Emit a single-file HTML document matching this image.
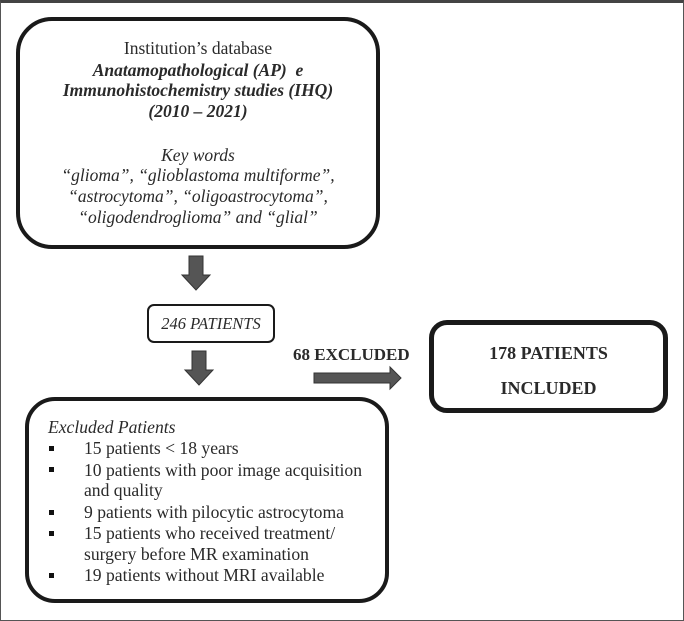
<!DOCTYPE html>
<html><head><style>
body{margin:0;width:684px;height:621px;background:#fff;position:relative;overflow:hidden;font-family:"Liberation Serif",serif;color:#2a2a2a}
.frame{position:absolute;left:0;top:0;border:1px solid #555;border-top:3px solid #444;box-sizing:border-box;width:684px;height:621px}
.box{position:absolute;border:4px solid #1a1a1a;box-sizing:border-box}
.c{position:absolute;left:0;width:100%;text-align:center;font-size:17.5px;line-height:20px}
.li{position:absolute;left:84px;font-size:17.6px;line-height:20px}
.sq{position:absolute;left:49px;width:5px;height:5px;background:#111}
</style></head><body>
<div class="frame"></div>
<div class="box" style="left:16px;top:17px;width:364px;height:232px;border-radius:36px"></div>
<div style="position:absolute;left:16px;top:17px;width:364px">
<div class="c" style="top:21px">Institution’s database</div>
<div class="c" style="top:43px;font-weight:bold;font-style:italic">Anatamopathological (AP)&nbsp; e</div>
<div class="c" style="top:63px;font-weight:bold;font-style:italic">Immunohistochemistry studies (IHQ)</div>
<div class="c" style="top:84px;font-weight:bold;font-style:italic">(2010 – 2021)</div>
<div class="c" style="top:128px;font-style:italic">Key words</div>
<div class="c" style="top:148px;font-style:italic">“glioma”, “glioblastoma multiforme”,</div>
<div class="c" style="top:169px;font-style:italic">“astrocytoma”, “oligoastrocytoma”,</div>
<div class="c" style="top:190px;font-style:italic">“oligodendroglioma” and “glial”</div>
</div>
<svg width="684" height="621" style="position:absolute;left:0;top:0">
<g fill="#555" stroke="#333" stroke-width="1">
<polygon points="189,256 203,256 203,275 210,275 196,290 182,275 189,275"/>
<polygon points="192,351 206,351 206,370 213,370 199,385 185,370 192,370"/>
<polygon points="314,373 390,373 390,367 401,378 390,389 390,383 314,383"/>
</g></svg>
<div class="box" style="left:147px;top:304px;width:128px;height:39px;border-radius:7px;border-width:2px"></div>
<div style="position:absolute;left:147px;top:314px;width:128px;text-align:center;font-size:16.5px;font-style:italic">246 PATIENTS</div>
<div style="position:absolute;left:293px;top:345px;font-size:17px;font-weight:bold">68 EXCLUDED</div>
<div class="box" style="left:429px;top:320px;width:239px;height:93px;border-radius:18px;border-width:5px"></div>
<div style="position:absolute;left:429px;top:342px;width:239px;text-align:center;font-size:18px;font-weight:bold;line-height:22px">178 PATIENTS</div>
<div style="position:absolute;left:429px;top:377px;width:239px;text-align:center;font-size:18px;font-weight:bold;line-height:22px">INCLUDED</div>
<div class="box" style="left:25px;top:397px;width:364px;height:206px;border-radius:30px"></div>
<div class="li" style="left:48px;top:417px;font-style:italic">Excluded Patients</div>
<div class="sq" style="top:446px"></div><div class="li" style="top:438px">15 patients &lt; 18 years</div>
<div class="sq" style="top:467px"></div><div class="li" style="top:460px">10 patients with poor image acquisition</div>
<div class="li" style="top:480px">and quality</div>
<div class="sq" style="top:510px"></div><div class="li" style="top:502px">9 patients with pilocytic astrocytoma</div>
<div class="sq" style="top:531px"></div><div class="li" style="top:523px">15 patients who received treatment/</div>
<div class="li" style="top:544px">surgery before MR examination</div>
<div class="sq" style="top:573px"></div><div class="li" style="top:565px">19 patients without MRI available</div>
</body></html>
